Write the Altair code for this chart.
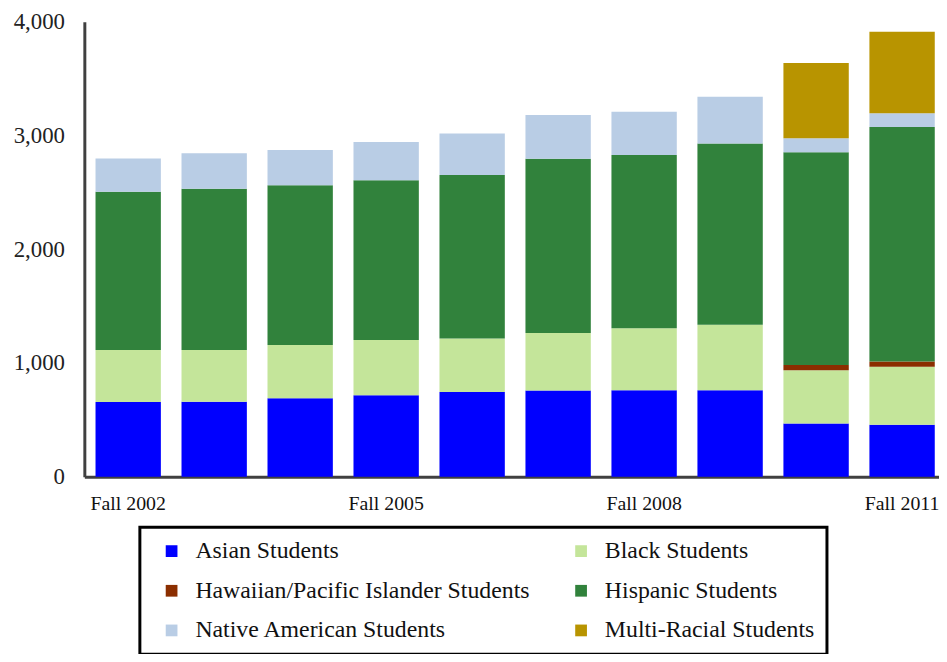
import altair as alt
import pandas as pd

years = ["Fall 2002", "Fall 2003", "Fall 2004", "Fall 2005", "Fall 2006",
         "Fall 2007", "Fall 2008", "Fall 2009", "Fall 2010", "Fall 2011"]
groups = ["Asian Students", "Black Students", "Hawaiian/Pacific Islander Students",
          "Hispanic Students", "Native American Students", "Multi-Racial Students"]
colors = ["#0000FF", "#C4E59A", "#8B2E00", "#31823C", "#B9CDE5", "#B89400"]

asian = [657, 660, 690, 716, 744, 759, 760, 760, 469, 456]
black = [457, 455, 468, 486, 472, 504, 546, 576, 467, 510]
hawaiian = [0, 0, 0, 0, 0, 0, 0, 0, 47, 46]
hispanic = [1390, 1417, 1405, 1405, 1437, 1532, 1521, 1594, 1870, 2062]
native = [294, 311, 308, 336, 364, 384, 382, 411, 123, 120]
multi = [0, 0, 0, 0, 0, 0, 0, 0, 660, 718]

series = [asian, black, hawaiian, hispanic, native, multi]
rows = []
for gi, (g, vals) in enumerate(zip(groups, series)):
    for y, v in zip(years, vals):
        rows.append({"year": y, "group": g, "value": v, "order": gi})
df = pd.DataFrame(rows)

# legend grid fills column by column: reorder so rows read left-to-right
legend_order = [0, 2, 4, 1, 3, 5]
legend_domain = [groups[i] for i in legend_order]
legend_range = [colors[i] for i in legend_order]

font = "Liberation Serif"

chart = alt.Chart(df).mark_bar().encode(
    x=alt.X("year:N", sort=years,
            scale=alt.Scale(paddingInner=0.24, paddingOuter=0.13, range=[0, 869]),
            axis=alt.Axis(title=None, values=["Fall 2002", "Fall 2005", "Fall 2008", "Fall 2011"],
                          labelAngle=0, ticks=False, labelPadding=17, labelFontSize=20,
                          labelFont=font, labelColor="#111", domainColor="#404040",
                          domainWidth=3)),
    y=alt.Y("value:Q", stack="zero",
            scale=alt.Scale(domain=[0, 4000], nice=False),
            axis=alt.Axis(title=None, values=[0, 1000, 2000, 3000, 4000], format=",.0f",
                          grid=False, ticks=False, labelPadding=20, labelFontSize=23,
                          labelFont=font, labelColor="#222", domainColor="#404040",
                          domainWidth=3)),
    color=alt.Color("group:N",
                    scale=alt.Scale(domain=legend_domain, range=legend_range),
                    legend=alt.Legend(title=None, orient="none", legendX=56, legendY=510,
                                      columns=2, symbolType="square", symbolSize=140,
                                      symbolStrokeWidth=0, symbolOffset=8,
                                      labelFont=font, labelFontSize=24,
                                      labelColor="#111", labelLimit=600, labelOffset=12,
                                      rowPadding=16, columnPadding=31, padding=12,
                                      strokeColor="black")),
    order=alt.Order("order:Q", sort="ascending"),
).properties(
    width=862, height=459,
    autosize=alt.AutoSizeParams(type="none"),
    padding={"left": 77, "top": 11, "right": 0, "bottom": 176},
).configure_view(stroke=None).configure_legend(strokeWidth=3)

chart.save("out.html", embed_options={"renderer": "svg", "actions": False})
